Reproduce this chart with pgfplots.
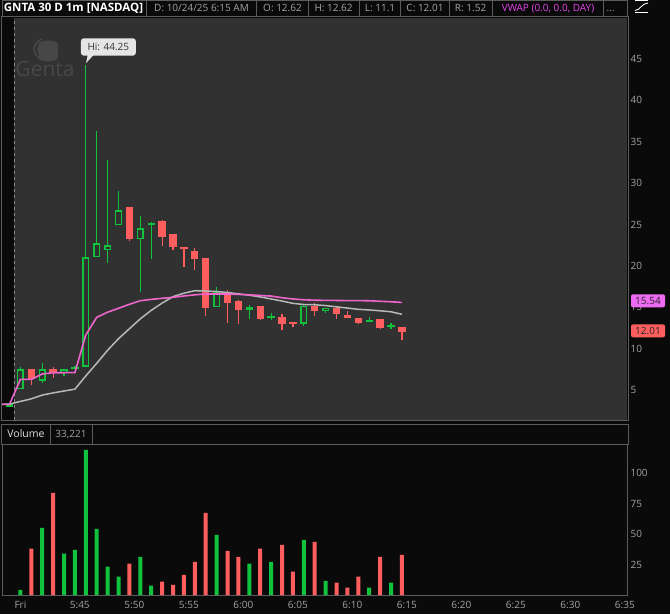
\documentclass[border=0pt]{standalone}
\usepackage{pgfplots}
\pgfplotsset{compat=1.18}
\usepackage{pgfplotstable}
\usepackage{fontspec}
\setmainfont{Open Sans}

\definecolor{pagebg}{HTML}{0A0A0A}
\definecolor{panelbg}{HTML}{313131}
\definecolor{frame}{HTML}{5C5C5C}
\definecolor{ticktxt}{HTML}{A4A4A4}
\definecolor{upgreen}{HTML}{10C23C}
\definecolor{dnred}{HTML}{FF5E5E}
\definecolor{vwap}{HTML}{EE66CC}
\definecolor{avg}{HTML}{B8B8B8}
\definecolor{magtxt}{HTML}{E845F0}
\definecolor{logo}{HTML}{474747}

% 1m candles, k = bar index (k=1 is 5:40)
\pgfplotstableread{
k  o      h      l      c
0  3.00   3.30   3.00   3.30
1  5.08   7.82   5.08   7.50
3  6.12   8.22   5.88   7.50
5  7.02   7.55   6.69   7.50
6  7.58   7.90   7.55   7.82
7  7.82   44.25  7.82   21.04
8  21.04  36.30  21.04  22.73
9  21.88  32.79  20.38  22.49
10 24.90  29.05  24.90  26.71
12 23.20  26.03  16.88  24.53
13 24.90  25.30  20.87  25.13
19 15.00  17.48  15.00  16.81
22 14.71  15.27  13.54  15.00
24 13.70  14.27  13.50  13.94
27 13.01  15.31  12.77  15.15
29 14.58  14.95  14.27  14.95
33 13.18  13.78  13.18  13.46
35 12.61  13.10  12.37  12.85
}\upcandles

\pgfplotstableread{
k  o      h      l      c
2  7.54   7.54   5.60   6.29
4  7.54   7.82   6.49   7.02
11 27.11  27.11  23.04  23.28
14 25.42  25.54  22.44  23.53
15 23.85  23.85  21.92  22.32
16 22.28  22.28  19.90  22.00
17 21.80  22.12  19.50  20.87
18 20.95  20.95  13.98  14.95
20 16.88  17.08  13.13  15.55
21 15.75  15.85  12.97  14.67
23 15.15  15.20  13.42  13.58
25 13.82  14.15  12.29  13.01
26 13.22  13.22  12.65  13.01
28 15.15  15.47  13.94  14.55
30 14.91  15.10  13.58  14.18
31 14.06  14.55  13.70  13.70
32 13.70  13.70  12.97  13.10
34 13.58  13.58  12.37  12.49
36 12.62  12.62  11.10  12.01
}\dncandles

\pgfplotstableread{
k     v
-0.69 3.27
0     3.27
1     6.29
2     6.29
3     6.93
4     7.09
5     7.09
6     7.10
7     11.65
8     13.78
9     14.40
10    14.87
11    15.35
12    15.79
13    15.95
14    16.08
15    16.20
16    16.36
17    16.50
18    16.60
19    16.60
20    16.60
21    16.55
22    16.50
23    16.42
24    16.35
25    16.15
26    16.00
27    15.90
28    15.85
29    15.83
30    15.82
31    15.80
32    15.80
33    15.78
34    15.72
35    15.66
36    15.58
}\vwapline

\pgfplotstableread{
k     v
-0.69 3.27
0     3.30
1     3.62
2     3.93
3     4.38
4     4.65
5     4.88
6     5.10
7     6.70
8     8.22
9     9.80
10    11.20
11    12.40
12    13.60
13    14.62
14    15.50
15    16.28
16    16.70
17    17.00
18    16.96
19    16.90
20    16.78
21    16.62
22    16.45
23    16.25
24    16.00
25    15.75
26    15.47
27    15.33
28    15.30
29    15.20
30    15.05
31    14.90
32    14.75
33    14.67
34    14.57
35    14.45
36    14.15
}\avgline

\pgfplotstableread{
k  v
1  4.3
3  55.2
5  33.9
6  37.1
7  119.1
8  54.3
9  23.2
10 15.0
12 31.4
13 7.6
19 49.4
22 25.7
24 27.3
27 45.3
29 11.7
33 6.0
35 10.1
}\upvol

\pgfplotstableread{
k  v
2  38.0
4  83.9
11 25.7
14 10.9
15 8.4
16 16.6
17 27.3
18 67.5
20 36.3
21 31.4
23 38.0
25 41.2
26 19.1
28 43.7
30 10.1
31 6.0
32 15.0
34 31.4
36 33.0
}\dnvol

% candle parts are drawn as error bars only; the plot line itself is hidden
\pgfplotsset{candle/.style={draw=none, mark=none, forget plot,
  error bars/y dir=plus, error bars/y explicit, error bars/error mark=none}}

\begin{document}
\begin{tikzpicture}[x=1pt,y=1pt]
\fill[pagebg] (0,0) rectangle (670,614);
\useasboundingbox (0,0) rectangle (670,614);

% header row
\foreach \a/\b in {2/146.7,146.7/256.7,256.7/308.3,308.3/359,359/400.7,400.7/449,449/492.3,492.3/603.3,603.3/627.7}
  \draw[frame, line width=0.8pt] (\a,613.6) rectangle (\b,597.3);
\node[anchor=base, white, font=\bfseries\fontsize{11.5}{13}\selectfont] at (73.5,602.3) {GNTA 30 D 1m [NASDAQ]};
\begin{scope}[every node/.style={anchor=base, ticktxt, font=\fontsize{10}{12}\selectfont}]
\node at (201.5,602.3) {D: 10/24/25 6:15 AM};
\node at (282.5,602.3) {O: 12.62};
\node at (333.6,602.3) {H: 12.62};
\node at (380,602.3) {L: 11.1};
\node at (425,602.3) {C: 12.01};
\node at (470.6,602.3) {R: 1.52};
\node[magtxt] at (548,602.3) {VWAP (0.0, 0.0, DAY)};
\node at (610.5,602.3) {...};
\end{scope}
% small study icon
\draw[white, line width=1pt] (635,613) -- (648,613);
\draw[white, line width=1pt] (635,601) -- (648,601);
\draw[white, line width=0.9pt] (635,603.5) .. controls (640,603.5) and (642,611) .. (648,611);

% price panel
\begin{axis}[
  name=price,
  at={(2pt,194pt)}, anchor=south west,
  scale only axis, width=625pt, height=402pt,
  xmin=-0.688, xmax=56.65, ymin=1.375, ymax=49.95,
  axis background/.style={fill=panelbg},
  axis line style={draw=none},
  clip=false,
  xtick=\empty,
  ytick={5,10,...,45},
  yticklabel pos=right,
  major tick length=0pt,
  yticklabel style={font=\fontsize{10}{12}\selectfont, text=ticktxt, anchor=west},
  /pgf/number format/assume math mode=true,
]
% left strip before the session line
\fill[pagebg] (axis cs:-0.688,1.375) rectangle (axis cs:0.41,49.95);
\draw[white!55!black, dash pattern=on 3pt off 3pt, line width=0.8pt] (axis cs:0.41,1.375) -- (axis cs:0.41,49.95);

% wicks
\addplot[candle, error bars/error bar style={line width=1.2pt, draw=upgreen}]
  table[x=k, y=l, y error plus expr=\thisrow{h}-\thisrow{l}] {\upcandles};
\addplot[candle, error bars/error bar style={line width=1.2pt, draw=dnred}]
  table[x=k, y=l, y error plus expr=\thisrow{h}-\thisrow{l}] {\dncandles};
% bodies
\addplot[candle, error bars/error bar style={line width=7.3pt, draw=upgreen}]
  table[x=k, y=o, y error plus expr=\thisrow{c}-\thisrow{o}] {\upcandles};
\addplot[candle, error bars/error bar style={line width=4.2pt, draw=panelbg}]
  table[x=k, y expr=\thisrow{o}+0.18, y error plus expr={max(\thisrow{c}-\thisrow{o}-0.36,0)}] {\upcandles};
\addplot[candle, error bars/error bar style={line width=7.3pt, draw=dnred}]
  table[x=k, y=c, y error plus expr=\thisrow{o}-\thisrow{c}] {\dncandles};

% studies
\addplot[avg, line width=1.5pt, mark=none] table[x=k, y=v] {\avgline};
\addplot[vwap, line width=1.6pt, mark=none] table[x=k, y=v] {\vwapline};

% Hi callout
\fill[white!90!black] (axis cs:7.02,44.5) -- (axis cs:7.2,45.6) -- (axis cs:7.8,45.6) -- cycle;
\node[fill=white!90!black, rounded corners=3pt, inner sep=0pt, minimum width=55pt, minimum height=17.4pt,
  text=black!80, font=\fontsize{10}{12}\selectfont] at (axis cs:9.07,46.45) {Hi: 44.25};
\end{axis}

\draw[frame, line width=0.9pt] (1.7,194) rectangle (628,597.3);

% logo
\begin{scope}[logo]
\fill (38.5,570) rectangle (57.5,556);
\fill (48,570) ellipse (9.5 and 3.5);
\fill (48,556) ellipse (9.5 and 3.5);
\draw[line width=1.6pt] (42,575) .. controls (31,570) and (32,560) .. (41,555);
\draw[line width=1.4pt] (44,572) .. controls (36,568) and (36,561) .. (43,558);
\node[anchor=base, font=\fontsize{21}{24}\selectfont] at (45,537.5) {Genta};
\end{scope}

% last value tags
\node[fill=magtxt!80!white, rounded corners=2pt, minimum width=34pt, minimum height=13pt, inner sep=0pt,
  text=black!85, font=\fontsize{10}{12}\selectfont] at (648,313.2) {15.54};
\node[fill=dnred, rounded corners=2pt, minimum width=34pt, minimum height=13pt, inner sep=0pt,
  text=black!85, font=\fontsize{10}{12}\selectfont] at (648,283.2) {12.01};

% volume header
\draw[frame, line width=0.9pt] (1.7,190) rectangle (628,170);
\draw[frame, line width=0.9pt] (50,190) -- (50,170);
\draw[frame, line width=0.9pt] (92,190) -- (92,170);
\node[anchor=base, white!88!black, font=\fontsize{10.5}{12}\selectfont] at (26,176.5) {Volume};
\node[anchor=base, ticktxt, font=\fontsize{10}{12}\selectfont] at (71,176.5) {33,221};

% volume panel
\begin{axis}[
  name=vol,
  at={(2pt,19pt)}, anchor=south west,
  scale only axis, width=625pt, height=151pt,
  xmin=-0.688, xmax=56.65, ymin=0, ymax=124,
  axis background/.style={fill=pagebg},
  axis line style={frame, line width=0.9pt},
  major tick length=0pt,
  xtick={1,6.45,11.45,16.45,21.45,26.45,31.45,36.45,41.45,46.45,51.45,56.45},
  xticklabels={Fri,5:45,5:50,5:55,6:00,6:05,6:10,6:15,6:20,6:25,6:30,6:35},
  ytick={25,50,75,100},
  yticklabel pos=right,
  tick label style={font=\fontsize{10}{12}\selectfont, text=ticktxt},
  yticklabel style={anchor=west},
  xticklabel style={yshift=-3pt},
  /pgf/number format/assume math mode=true,
]
\addplot[ybar, bar width=4pt, bar shift=0pt, fill=upgreen, draw=none] table[x=k, y=v] {\upvol};
\addplot[ybar, bar width=4pt, bar shift=0pt, fill=dnred, draw=none] table[x=k, y=v] {\dnvol};
\end{axis}
\end{tikzpicture}
\end{document}
